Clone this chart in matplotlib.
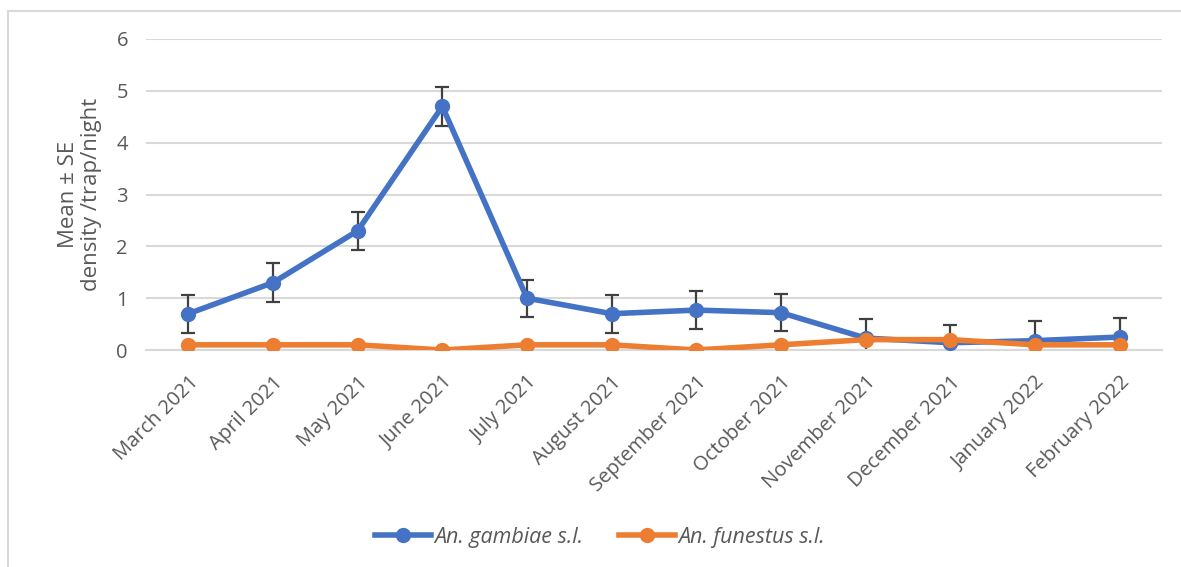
import matplotlib.pyplot as plt
from matplotlib.patches import Rectangle

months = ["March 2021", "April 2021", "May 2021", "June 2021", "July 2021",
          "August 2021", "September 2021", "October 2021", "November 2021",
          "December 2021", "January 2022", "February 2022"]
gambiae = [0.70, 1.30, 2.30, 4.70, 1.00, 0.70, 0.77, 0.72, 0.23, 0.14, 0.18, 0.25]
gambiae_se = [0.37, 0.37, 0.37, 0.37, 0.36, 0.37, 0.37, 0.36, 0.37, 0.35, 0.37, 0.36]
funestus = [0.10, 0.10, 0.10, 0.00, 0.10, 0.10, 0.00, 0.10, 0.20, 0.20, 0.10, 0.10]

BLUE = "#4472C4"
ORANGE = "#ED7D31"
TEXT = "#595959"
GRID = "#D9D9D9"

plt.rcParams["font.family"] = ["Open Sans", "DejaVu Sans"]

fig = plt.figure(figsize=(11.81, 5.67), dpi=100)
ax = fig.add_axes([146 / 1181, 1 - 350 / 567, (1162 - 146) / 1181, (350 - 39) / 567])

x = list(range(len(months)))
ax.errorbar(x, gambiae, yerr=gambiae_se, fmt="none", ecolor="#404040",
            elinewidth=1.6, capsize=5, capthick=1.6, zorder=2)
ax.plot(x, gambiae, color=BLUE, lw=4, marker="o", ms=10, zorder=3,
        label="An. gambiae s.l.")
ax.plot(x, funestus, color=ORANGE, lw=4, marker="o", ms=10, zorder=4,
        label="An. funestus s.l.")

ax.set_xlim(-0.5, len(months) - 0.5)
ax.set_ylim(0, 6)
ax.set_yticks(range(0, 7))
ax.yaxis.grid(True, color=GRID, lw=1.5)
ax.set_axisbelow(True)
for s in ["top", "right", "left"]:
    ax.spines[s].set_visible(False)
ax.spines["bottom"].set_color(GRID)
ax.spines["bottom"].set_linewidth(1.5)
ax.tick_params(axis="both", length=0, colors=TEXT, labelsize=14.5)
ax.tick_params(axis="y", pad=13)
ax.set_xticks(x)
ax.set_xticklabels(months, rotation=45, ha="right", rotation_mode="anchor")
ax.tick_params(axis="x", pad=16)

ax.set_ylabel("Mean ± SE\ndensity /trap/night", color=TEXT, fontsize=16,
              labelpad=10, linespacing=1.15)

leg = fig.legend(loc="center", bbox_to_anchor=(0.508, 1 - 537 / 567), ncol=2,
                 frameon=False, handlelength=2.6, columnspacing=1.7,
                 handletextpad=0.15, prop={"style": "italic", "size": 15.5})
for t in leg.get_texts():
    t.set_color(TEXT)

# chart frame
fig.patches.append(Rectangle((8 / 1181, -0.1), 1.2, 1 - 11 / 567 + 0.1,
                             transform=fig.transFigure, fill=False,
                             edgecolor=GRID, lw=1.5))

fig.savefig("out.png", dpi=100)
